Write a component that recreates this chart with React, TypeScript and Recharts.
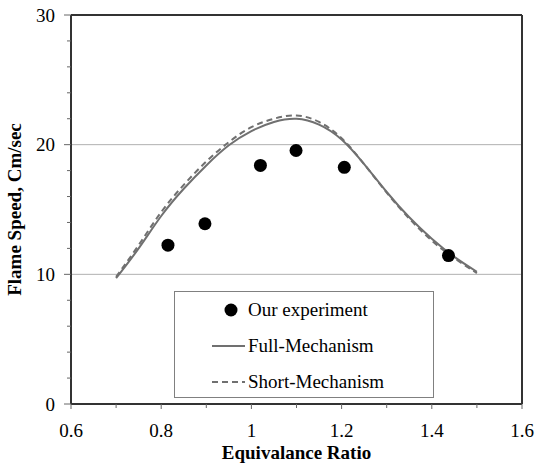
import React from "react";
import {
  ComposedChart,
  Line,
  Scatter,
  XAxis,
  YAxis,
  ReferenceLine,
  Legend,
} from "recharts";

const FONT = "'Liberation Serif', 'Times New Roman', serif";

// measured points
const expPhi = [0.815, 0.897, 1.02, 1.099, 1.206, 1.437];
const expSpeed = [12.25, 13.9, 18.4, 19.55, 18.25, 11.45];

// model curves
const modelPhi = [0.7, 0.75, 0.8, 0.85, 0.9, 0.95, 1.0, 1.05, 1.1, 1.15, 1.2, 1.25, 1.3, 1.35, 1.4, 1.45, 1.5];
const fullSpeed = [9.7, 12.0, 14.5, 16.6, 18.4, 19.95, 21.05, 21.75, 22.0, 21.55, 20.4, 18.5, 16.35, 14.4, 12.75, 11.35, 10.2];
const shortSpeed = [9.8, 12.25, 14.8, 16.9, 18.7, 20.2, 21.35, 22.0, 22.25, 21.75, 20.5, 18.5, 16.3, 14.3, 12.6, 11.25, 10.1];

const xTicks = [0.6, 0.7, 0.8, 0.9, 1.0, 1.1, 1.2, 1.3, 1.4, 1.5, 1.6];
const yTicks = [0, 2, 4, 6, 8, 10, 12, 14, 16, 18, 20, 22, 24, 26, 28, 30];

const expData = expPhi.map((x, i) => ({ x, y: expSpeed[i] }));
const fullData = modelPhi.map((x, i) => ({ x, y: fullSpeed[i] }));
const shortData = modelPhi.map((x, i) => ({ x, y: shortSpeed[i] }));

const YTick = (props: any) => {
  const { x, y, payload } = props;
  const major = payload.value % 10 === 0;
  return (
    <g>
      <line x1={x - (major ? 7 : 4)} x2={x} y1={y} y2={y} stroke="#666" strokeWidth={1} />
      {major && (
        <text x={x - 16} y={y} dy="0.35em" textAnchor="end" fontFamily={FONT} fontSize={19} fill="#000">
          {payload.value}
        </text>
      )}
    </g>
  );
};

const XTick = (props: any) => {
  const { x, y, payload } = props;
  const major = Math.round(payload.value * 10) % 2 === 0;
  return (
    <g>
      <line x1={x} x2={x} y1={y} y2={y + (major ? 5 : 4)} stroke="#666" strokeWidth={1} />
      {major && (
        <text x={x} y={y + 26} dy="0.35em" textAnchor="middle" fontFamily={FONT} fontSize={19} fill="#000">
          {String(payload.value)}
        </text>
      )}
    </g>
  );
};

const renderLegend = () => {
  const row: React.CSSProperties = { height: 36, display: "flex", alignItems: "center" };
  return (
    <div
      style={{
        width: 258,
        height: 105,
        border: "1px solid #808080",
        background: "#fff",
        fontFamily: FONT,
        fontSize: 19,
        color: "#000",
      }}
    >
      <div style={row}>
        <svg width={33} height={20} style={{ marginLeft: 37 }}>
          <circle cx={19} cy={10} r={6.5} fill="#000" />
        </svg>
        <span style={{ marginLeft: 3 }}>Our experiment</span>
      </div>
      <div style={row}>
        <svg width={33} height={20} style={{ marginLeft: 37 }}>
          <line x1={0} x2={33} y1={10} y2={10} stroke="#707070" strokeWidth={2} />
        </svg>
        <span style={{ marginLeft: 3 }}>Full-Mechanism</span>
      </div>
      <div style={row}>
        <svg width={33} height={20} style={{ marginLeft: 37 }}>
          <line x1={0} x2={33} y1={10} y2={10} stroke="#707070" strokeWidth={2} strokeDasharray="6 4" />
        </svg>
        <span style={{ marginLeft: 3 }}>Short-Mechanism</span>
      </div>
    </div>
  );
};

export default function App() {
  return (
    <div style={{ position: "absolute", left: 0, top: 0, width: 543, height: 465, background: "#fff" }}>
      <ComposedChart width={543} height={465} margin={{ top: 15, right: 21, bottom: 0, left: 0 }}>
        <XAxis
          type="number"
          dataKey="x"
          domain={[0.6, 1.6]}
          ticks={xTicks}
          interval={0}
          allowDataOverflow
          height={61}
          axisLine={{ stroke: "#333", strokeWidth: 2 }}
          tickLine={false}
          tickSize={0}
          tickMargin={0}
          tick={<XTick />}
          label={{
            value: "Equivalance Ratio",
            position: "insideBottom",
            offset: 6,
            style: { fontFamily: FONT, fontSize: 19, fontWeight: "bold", fill: "#000" },
          }}
        />
        <YAxis
          type="number"
          dataKey="y"
          domain={[0, 30]}
          ticks={yTicks}
          interval={0}
          allowDataOverflow
          width={71}
          axisLine={{ stroke: "#333", strokeWidth: 2 }}
          tickLine={false}
          tickSize={0}
          tickMargin={0}
          tick={<YTick />}
          label={{
            value: "Flame Speed, Cm/sec",
            angle: -90,
            position: "insideLeft",
            offset: 14,
            style: { textAnchor: "middle", fontFamily: FONT, fontSize: 19, fontWeight: "bold", fill: "#000" },
          }}
        />
        <ReferenceLine y={10} stroke="#b0b0b0" strokeWidth={1} />
        <ReferenceLine y={20} stroke="#b0b0b0" strokeWidth={1} />
        <ReferenceLine y={30} stroke="#333" strokeWidth={2} />
        <ReferenceLine x={1.6} stroke="#333" strokeWidth={2} />
        <Legend
          layout="vertical"
          align="center"
          verticalAlign="middle"
          content={renderLegend}
          wrapperStyle={{ left: 174, top: 291, width: 260, height: 107 }}
        />
        <Line
          data={fullData}
          dataKey="y"
          name="Full-Mechanism"
          type="natural"
          stroke="#707070"
          strokeWidth={2}
          dot={false}
          activeDot={false}
          isAnimationActive={false}
        />
        <Line
          data={shortData}
          dataKey="y"
          name="Short-Mechanism"
          type="natural"
          stroke="#707070"
          strokeWidth={2}
          strokeDasharray="6 4"
          dot={false}
          activeDot={false}
          isAnimationActive={false}
        />
        <Scatter
          data={expData}
          dataKey="y"
          name="Our experiment"
          fill="#000"
          shape={(p: any) => <circle cx={p.cx} cy={p.cy} r={6.5} fill="#000" />}
          isAnimationActive={false}
        />
      </ComposedChart>
    </div>
  );
}
